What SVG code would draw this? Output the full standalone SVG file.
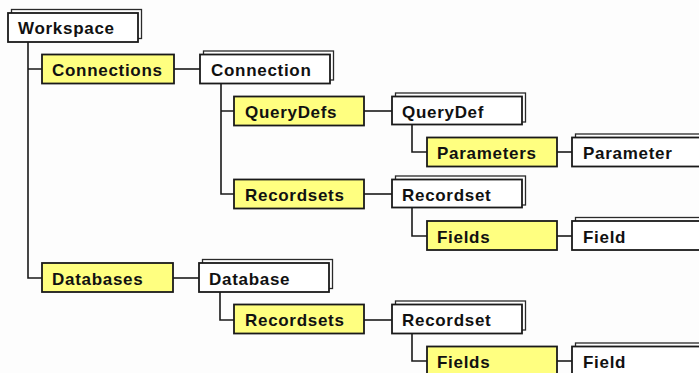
<svg xmlns="http://www.w3.org/2000/svg" width="699" height="373" viewBox="0 0 699 373">
  <style>
    .bg { fill: #fdfdfd; }
    .obj rect.back { fill: #ffffff; stroke: #2a2a2a; stroke-width: 1.3; }
    .obj rect.front { fill: #ffffff; stroke: #1a1a1a; stroke-width: 1.8; }
    .coll rect { fill: #ffff80; stroke: #1a1a1a; stroke-width: 1.8; }
    text { font-family: "Liberation Sans", Arial, sans-serif; font-weight: bold; font-size: 17px; letter-spacing: 0.7px; fill: #111111; }
    .wire { fill: none; stroke: #1a1a1a; stroke-width: 1.6; }
  </style>
  <rect class="bg" x="0" y="0" width="699" height="373"/>

  <!-- tree connectors -->
  <g id="connectors" class="wire">
    <path d="M28 42 V278 H42 M28 69 H42"/>
    <path d="M174 69 H200"/>
    <path d="M221 83 V194 H234 M221 111 H234"/>
    <path d="M364 111 H392"/>
    <path d="M412 124 V152 H427"/>
    <path d="M557 152 H572"/>
    <path d="M364 194 H392"/>
    <path d="M412 207 V236 H427"/>
    <path d="M557 236 H572"/>
    <path d="M173 278 H199"/>
    <path d="M220 292 V320 H234"/>
    <path d="M364 320 H392"/>
    <path d="M412 334 V361 H427"/>
    <path d="M557 361 H572"/>
  </g>

  <!-- object nodes (stacked boxes) -->
  <g id="workspace" class="obj">
    <rect class="back" x="11.5" y="9.5" width="130" height="29"/>
    <rect class="front" x="8" y="13" width="130" height="29"/>
    <text x="18" y="34">Workspace</text>
  </g>
  <g id="connection" class="obj">
    <rect class="back" x="203.5" y="51" width="130" height="29"/>
    <rect class="front" x="200" y="54.5" width="130" height="29"/>
    <text x="211" y="76">Connection</text>
  </g>
  <g id="querydef" class="obj">
    <rect class="back" x="395.5" y="93" width="130" height="29"/>
    <rect class="front" x="392" y="96.5" width="130" height="28"/>
    <text x="402" y="117.5">QueryDef</text>
  </g>
  <g id="parameter" class="obj">
    <rect class="back" x="575.5" y="134" width="130" height="29"/>
    <rect class="front" x="572" y="137.5" width="130" height="29"/>
    <text x="583" y="159">Parameter</text>
  </g>
  <g id="recordset1" class="obj">
    <rect class="back" x="395.5" y="176" width="130" height="29"/>
    <rect class="front" x="392" y="179.5" width="130" height="28"/>
    <text x="402" y="200.5">Recordset</text>
  </g>
  <g id="field1" class="obj">
    <rect class="back" x="575.5" y="217.5" width="130" height="29"/>
    <rect class="front" x="572" y="221" width="130" height="29"/>
    <text x="583" y="242.5">Field</text>
  </g>
  <g id="database" class="obj">
    <rect class="back" x="202.5" y="259.5" width="130" height="29"/>
    <rect class="front" x="199" y="263" width="130" height="29"/>
    <text x="209" y="284.5">Database</text>
  </g>
  <g id="recordset2" class="obj">
    <rect class="back" x="395.5" y="301" width="130" height="29"/>
    <rect class="front" x="392" y="304.5" width="130" height="29"/>
    <text x="402" y="326">Recordset</text>
  </g>
  <g id="field2" class="obj">
    <rect class="back" x="575.5" y="343" width="130" height="29"/>
    <rect class="front" x="572" y="346.5" width="130" height="29"/>
    <text x="583" y="368">Field</text>
  </g>

  <!-- collection nodes (yellow) -->
  <g id="connections" class="coll">
    <rect x="42" y="54.5" width="132" height="29"/>
    <text x="52" y="76">Connections</text>
  </g>
  <g id="querydefs" class="coll">
    <rect x="234" y="96.5" width="130" height="29"/>
    <text x="245" y="118">QueryDefs</text>
  </g>
  <g id="parameters" class="coll">
    <rect x="427" y="137.5" width="130" height="29"/>
    <text x="437" y="159">Parameters</text>
  </g>
  <g id="recordsets1" class="coll">
    <rect x="234" y="179.5" width="130" height="29"/>
    <text x="245" y="201">Recordsets</text>
  </g>
  <g id="fields1" class="coll">
    <rect x="427" y="221" width="130" height="29"/>
    <text x="437" y="242.5">Fields</text>
  </g>
  <g id="databases" class="coll">
    <rect x="42" y="263" width="131" height="29"/>
    <text x="52" y="284.5">Databases</text>
  </g>
  <g id="recordsets2" class="coll">
    <rect x="234" y="304.5" width="130" height="29"/>
    <text x="245" y="326">Recordsets</text>
  </g>
  <g id="fields2" class="coll">
    <rect x="427" y="346.5" width="130" height="29"/>
    <text x="437" y="368">Fields</text>
  </g>
</svg>
